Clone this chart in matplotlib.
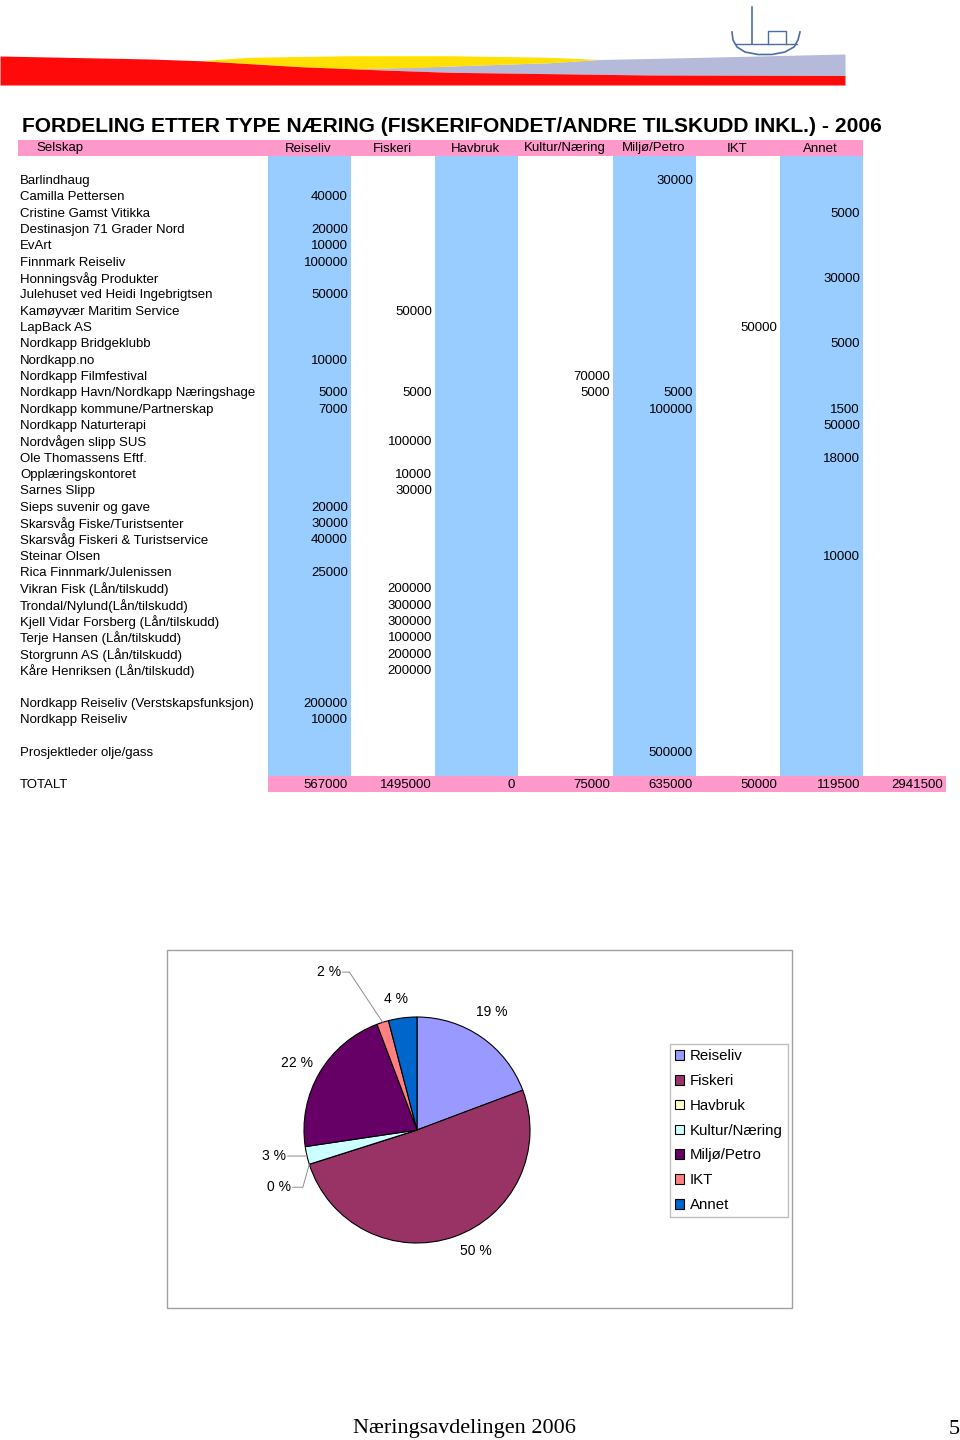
import numpy as np
import matplotlib
matplotlib.use('Agg')
import matplotlib.pyplot as plt
from matplotlib.patches import Rectangle
from matplotlib import font_manager

plt.rcParams['font.family'] = ['Liberation Sans', 'DejaVu Sans']
_names = {f.name for f in font_manager.fontManager.ttflist}
NARROW = 'Liberation Sans Narrow' if 'Liberation Sans Narrow' in _names else 'Liberation Sans'

# ---------------- data ----------------
title = "FORDELING ETTER TYPE NÆRING (FISKERIFONDET/ANDRE TILSKUDD INKL.) - 2006"
first_header = "Selskap"
categories = ["Reiseliv", "Fiskeri", "Havbruk", "Kultur/Næring", "Miljø/Petro", "IKT", "Annet"]
total_label = "TOTALT"

companies = [
    "Barlindhaug", "Camilla Pettersen", "Cristine Gamst Vitikka", "Destinasjon 71 Grader Nord",
    "EvArt", "Finnmark Reiseliv", "Honningsvåg Produkter", "Julehuset ved Heidi Ingebrigtsen",
    "Kamøyvær Maritim Service", "LapBack AS", "Nordkapp Bridgeklubb", "Nordkapp.no",
    "Nordkapp Filmfestival", "Nordkapp Havn/Nordkapp Næringshage", "Nordkapp kommune/Partnerskap",
    "Nordkapp Naturterapi", "Nordvågen slipp SUS", "Ole Thomassens Eftf.", "Opplæringskontoret",
    "Sarnes Slipp", "Sieps suvenir og gave", "Skarsvåg Fiske/Turistsenter",
    "Skarsvåg Fiskeri & Turistservice", "Steinar Olsen", "Rica Finnmark/Julenissen",
    "Vikran Fisk (Lån/tilskudd)", "Trondal/Nylund(Lån/tilskudd)", "Kjell Vidar Forsberg (Lån/tilskudd)",
    "Terje Hansen (Lån/tilskudd)", "Storgrunn AS (Lån/tilskudd)", "Kåre Henriksen (Lån/tilskudd)",
    "Nordkapp Reiseliv (Verstskapsfunksjon)", "Nordkapp Reiseliv",
    "Prosjektleder olje/gass",
]
N = None
reiseliv = [N, 40000, N, 20000, 10000, 100000, N, 50000, N, N,
            N, 10000, N, 5000, 7000, N, N, N, N, N,
            20000, 30000, 40000, N, 25000, N, N, N, N, N,
            N, 200000, 10000, N]
fiskeri = [N, N, N, N, N, N, N, N, 50000, N,
           N, N, N, 5000, N, N, 100000, N, 10000, 30000,
           N, N, N, N, N, 200000, 300000, 300000, 100000, 200000,
           200000, N, N, N]
havbruk = [N, N, N, N, N, N, N, N, N, N,
           N, N, N, N, N, N, N, N, N, N,
           N, N, N, N, N, N, N, N, N, N,
           N, N, N, N]
kultur = [N, N, N, N, N, N, N, N, N, N,
          N, N, 70000, 5000, N, N, N, N, N, N,
          N, N, N, N, N, N, N, N, N, N,
          N, N, N, N]
miljo = [30000, N, N, N, N, N, N, N, N, N,
         N, N, N, 5000, 100000, N, N, N, N, N,
         N, N, N, N, N, N, N, N, N, N,
         N, N, N, 500000]
ikt = [N, N, N, N, N, N, N, N, N, 50000,
       N, N, N, N, N, N, N, N, N, N,
       N, N, N, N, N, N, N, N, N, N,
       N, N, N, N]
annet = [N, N, 5000, N, N, N, 30000, N, N, N,
         5000, N, N, N, 1500, 50000, N, 18000, N, N,
         N, N, N, 10000, N, N, N, N, N, N,
         N, N, N, N]
columns = [reiseliv, fiskeri, havbruk, kultur, miljo, ikt, annet]
pie_pct_labels = [19, 50, 0, 3, 22, 2, 4]
footer = "Næringsavdelingen 2006"
page_no = "5"

totals = [sum(v for v in col if v is not None) for col in columns]
grand_total = sum(totals)

# ---------------- styling / layout ----------------
PINK = '#FF99CC'
BLUE = '#99CCFF'
pie_colors = ['#9999FF', '#993366', '#FFFFCC', '#CCFFFF', '#660066', '#FF8080', '#0066CC']
FS = 9.5

fig = plt.figure(figsize=(9.6, 14.4), dpi=100)
ax = fig.add_axes([0, 0, 1, 1])
ax.set_xlim(0, 960)
ax.set_ylim(1440, 0)
ax.axis('off')

# --- top decoration ---
xs = np.linspace(0, 845, 300)
red_top = np.interp(xs, [0, 150, 200, 300, 383, 450, 650, 845], [56, 59, 60.7, 66.7, 70, 72.3, 75, 75.5])
lav_top = np.interp(xs, [350, 450, 550, 600, 650, 845], [69, 66, 62.7, 59.5, 58.5, 54])
m = xs >= 350
ax.fill_between(xs[m], lav_top[m], red_top[m], color='#B5B9DA', lw=0)
yx = np.linspace(200, 600, 150)
y_top = np.interp(yx, [200, 250, 350, 450, 550, 600], [60.5, 57.3, 55.7, 55.7, 57.3, 59.5])
y_bot = np.interp(yx, [200, 300, 357, 417, 450, 550, 600], [60.5, 66.7, 68.8, 67.5, 66, 62.7, 59.5])
ax.fill_between(yx, y_top, y_bot, color='#FFE000', lw=0)
ax.fill_between(xs, red_top, 85, color='#FF0A0A', lw=0)
# boat logo
bc = '#4A6DA7'
ax.plot([752, 752], [7, 44], color=bc, lw=1.2)
hx = [732, 733, 737, 745, 758, 772, 785, 794, 798, 800]
hy = [32, 40, 47, 52, 54.5, 54.5, 52, 47, 40, 32]
ax.plot(hx, hy, color=bc, lw=1.2)
ax.plot([736, 797], [43.5, 43.5], color=bc, lw=1.0)
ax.plot([768, 768, 786, 786], [44, 31, 31, 44], color=bc, lw=1.0)

# --- title ---
t_title = ax.text(22, 127, title, fontsize=14, fontweight='bold', family=[NARROW, 'DejaVu Sans'],
                  ha='left', va='center', color='black')

# --- table ---
col_left = [268, 351, 435, 518, 613, 696, 780, 863]
col_right = col_left[1:] + [946]
y0, pitch = 148.5, 16.33
blue_top, blue_bot = 156, 776

ax.add_patch(Rectangle((18, 140), 863 - 18, 16, color=PINK, lw=0))
for j in (0, 2, 4, 6):
    ax.add_patch(Rectangle((col_left[j], blue_top), col_right[j] - col_left[j], blue_bot - blue_top,
                           color=BLUE, lw=0))
ax.add_patch(Rectangle((268, 776), 946 - 268, 16, color=PINK, lw=0))

ax.text(60, y0, first_header, fontsize=FS, ha='center', va='center')
for j, c in enumerate(categories):
    ax.text((col_left[j] + col_right[j]) / 2 - 1, y0, c, fontsize=FS, ha='center', va='center')

group_sizes = [31, 2, 1]
slots = []
s = 2
for g in group_sizes:
    for _ in range(g):
        slots.append(s)
        s += 1
    s += 1
total_slot = slots[-1] + 2

for i, name in enumerate(companies):
    y = y0 + slots[i] * pitch
    ax.text(20, y, name, fontsize=FS, ha='left', va='center')
    for j, col in enumerate(columns):
        v = col[i]
        if v is not None:
            ax.text(col_right[j] - 3, y, f"{v}", fontsize=FS, ha='right', va='center')

yT = y0 + total_slot * pitch
ax.text(20, yT, total_label, fontsize=FS, ha='left', va='center')
for j, v in enumerate(totals):
    ax.text(col_right[j] - 3, yT, f"{v}", fontsize=FS, ha='right', va='center')
ax.text(col_right[7] - 3, yT, f"{grand_total}", fontsize=FS, ha='right', va='center')

# --- pie chart box ---
ax.add_patch(Rectangle((167, 950), 792 - 167, 1308 - 950, fill=False, edgecolor='#A0A0A0', lw=1.0))

cx, cy, r = 417, 1130, 113
pax = fig.add_axes([(cx - r) / 960, (1440 - cy - r) / 1440, 2 * r / 960, 2 * r / 1440])
wedges, _ = pax.pie(totals, colors=pie_colors, startangle=90, counterclock=False, radius=1,
                    wedgeprops=dict(edgecolor='black', linewidth=0.8))
pax.set_xlim(-1, 1)
pax.set_ylim(-1, 1)
pax.set_aspect('auto')
pax.axis('off')

label_dist = [1.24, 1.19, None, None, 1.22, None, 1.17]
label_off = [2.3, 6.9, 0, 0, 1.1, 0, 1.8]
leaders = {5: (1.52, 5.5, 0.06), 3: (1.02, 0.0, 0.15), 2: (1.13, 9.0, 0.09)}
for k, w in enumerate(wedges):
    mid = np.deg2rad((w.theta1 + w.theta2) / 2)
    txt = f"{pie_pct_labels[k]} %"
    if k in leaders:
        er, eoff, hl = leaders[k]
        ea = mid + np.deg2rad(eoff)
        p0 = (np.cos(mid), np.sin(mid))
        p1 = (er * np.cos(ea), er * np.sin(ea))
        p2 = (p1[0] - hl, p1[1])
        pax.plot([p0[0], p1[0], p2[0]], [p0[1], p1[1], p2[1]], color='#8C8C8C', lw=0.7, clip_on=False)
        pax.text(p2[0] - 0.015, p2[1], txt, fontsize=10, ha='right', va='center', clip_on=False)
    else:
        a = mid + np.deg2rad(label_off[k])
        d = label_dist[k]
        pax.text(d * np.cos(a), d * np.sin(a), txt, fontsize=10, ha='center', va='center', clip_on=False)

leg = pax.legend(wedges, categories, loc='upper left', bbox_to_anchor=(670 / 960, 1 - 1044 / 1440),
                 bbox_transform=fig.transFigure, frameon=True, fancybox=False, fontsize=10.8,
                 handlelength=0.6, handleheight=0.6, handletextpad=0.35, labelspacing=0.72,
                 borderpad=0.35, borderaxespad=0.0)
leg.get_frame().set_edgecolor('#B0B0B0')
leg.get_frame().set_linewidth(1.0)

# --- footer ---
serif = ['Liberation Serif', 'DejaVu Serif']
ax.text(353, 1429, footer, fontsize=16, family=serif, ha='left', va='center')
ax.text(949, 1429, page_no, fontsize=16, family=serif, ha='left', va='center')

# fit title width
fig.canvas.draw()
bb = t_title.get_window_extent()
t_title.set_fontsize(t_title.get_fontsize() * 860 / bb.width)

fig.savefig('out.png', dpi=100)
